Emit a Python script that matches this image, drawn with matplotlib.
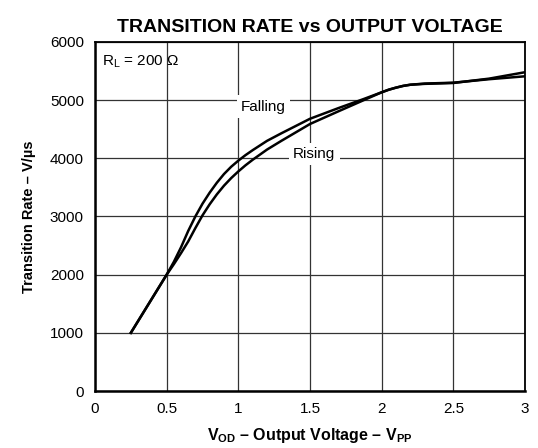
import matplotlib
matplotlib.use("Agg")
from matplotlib import pyplot as plt

plt.rcParams['font.family'] = ['Liberation Sans', 'DejaVu Sans']
plt.rcParams['mathtext.fontset'] = 'custom'
plt.rcParams['mathtext.rm'] = 'Liberation Sans'
plt.rcParams['mathtext.bf'] = 'Liberation Sans:bold'

#? ---- data
vod = [0.25, 0.375, 0.5, 0.55, 0.6, 0.65, 0.7, 0.75, 0.8, 0.85, 0.9, 0.95, 1.0, 1.05, 1.1, 1.2, 1.3,
       1.5, 1.7, 1.875, 2.0, 2.05, 2.1, 2.15, 2.2, 2.3, 2.5, 2.75, 3.0]
falling = [1000, 1500, 2000, 2220, 2470, 2750, 3000, 3220, 3410, 3580, 3730, 3855, 3960, 4055, 4140, 4300, 4430,
           4680, 4865, 5020, 5135, 5180, 5215, 5245, 5265, 5285, 5300, 5360, 5410]
rising = [1000, 1500, 2000, 2180, 2370, 2570, 2800, 3020, 3210, 3380, 3530, 3660, 3775, 3880, 3975, 4150, 4300,
          4590, 4810, 5000, 5135, 5180, 5215, 5245, 5265, 5280, 5295, 5370, 5480]

xticks = [0, 0.5, 1, 1.5, 2, 2.5, 3]
xticklabels = ['0', '0.5', '1', '1.5', '2', '2.5', '3']
yticks = [0, 1000, 2000, 3000, 4000, 5000, 6000]

fig = plt.figure(figsize=(5.38, 4.48), dpi=100)
ax = fig.add_axes([0.1766, 0.1272, 0.7992, 0.7791])

ax.plot(vod, falling, color='black', lw=1.8, zorder=3, solid_joinstyle='round')
ax.plot(vod, rising, color='black', lw=1.8, zorder=3, solid_joinstyle='round')

ax.set_xlim(0, 3)
ax.set_ylim(0, 6000)
ax.set_xticks(xticks)
ax.set_xticklabels(xticklabels)
ax.set_yticks(yticks)
ax.tick_params(length=0, labelsize=11, pad=8)
ax.grid(True, color='#333333', lw=0.9)
ax.set_axisbelow(True)
for side in ['left', 'bottom']:
    ax.spines[side].set_linewidth(1.8)
for side in ['top', 'right']:
    ax.spines[side].set_linewidth(1.3)

ax.set_title('TRANSITION RATE vs OUTPUT VOLTAGE', fontsize=14, fontweight='bold', pad=7)
ax.set_xlabel(r'$\mathbf{V_{OD}}$ – Output Voltage – $\mathbf{V_{PP}}$', fontsize=11.5, fontweight='bold', labelpad=7)
ax.set_ylabel('Transition Rate – V/µs', fontsize=10.5, fontweight='bold', labelpad=10)

box = dict(facecolor='white', edgecolor='none', pad=3)
ax.text(0.05, 5660, r'R$_\mathregular{L}$ = 200 Ω', fontsize=11, va='center', ha='left')
ax.text(1.175, 4890, 'Falling', fontsize=11, va='center', ha='center', bbox=box, zorder=2)
ax.text(1.53, 4080, 'Rising', fontsize=11, va='center', ha='center', bbox=box, zorder=2)

plt.savefig('out.png', dpi=100)
